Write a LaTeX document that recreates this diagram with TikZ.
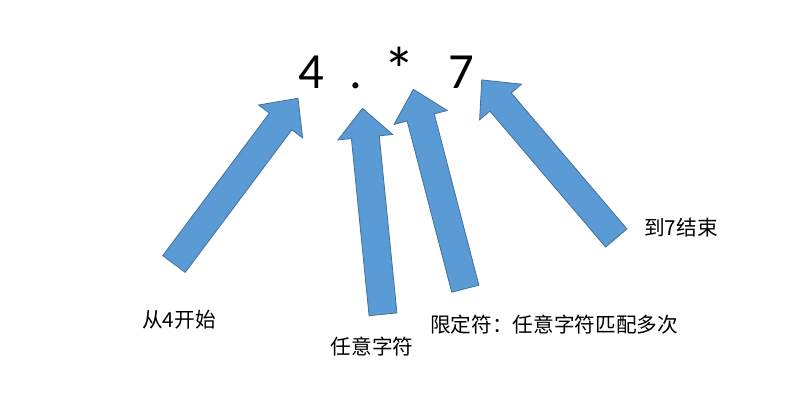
\documentclass[tikz,border=0pt]{standalone}
\usepackage{fontspec}
\setmainfont{Carlito}
\newfontfamily\cjk{Noto Sans CJK SC}
\definecolor{arrowblue}{HTML}{5B9BD5}
\definecolor{arrowline}{HTML}{41719C}

\tikzset{
  bigchar/.style={font=\fontsize{38}{40}\selectfont, anchor=base, inner sep=0pt},
  note/.style={font=\cjk\fontsize{15.5}{18}\selectfont, inner sep=0pt},
  arrowbody/.style={fill=arrowblue, draw=arrowline, line width=0.6pt}
}

% block arrow: tail point, angle, length
\newcommand{\blockarrow}[3]{%
  \begin{scope}[shift={#1}, rotate=#2]
    \draw[arrowbody] (0,-14) -- (#3-29,-14) -- (#3-29,-27.5) -- (#3,0)
      -- (#3-29,27.5) -- (#3-29,14) -- (0,14) -- cycle;
  \end{scope}}

\begin{document}
\begin{tikzpicture}[x=0.75pt, y=-0.75pt]
    \useasboundingbox[fill=white] (0,0) rectangle (804,404);

    % the pattern
    \node[bigchar] (n4) at (311,88) {4};
    \node[bigchar] (ndot) at (356,88) {.};
    \node[bigchar, font=\fontsize{48}{50}\selectfont] (nstar) at (399,92) {*};
    \node[bigchar] (n7) at (461,88) {7};

    % arrows pointing at the characters
    \blockarrow{(174,264)}{53.2}{207}
    \blockarrow{(383,314.3)}{95.7}{207}
    \blockarrow{(465.3,288.7)}{104.6}{206}
    \blockarrow{(616.3,238)}{130.4}{207.6}

    % notes
    \node[note] (lstart) at (179,320) {从4开始};
    \node[note] (lany) at (372,347) {任意字符};
    \node[note] (lquant) at (554,325) {限定符：任意字符匹配多次};
    \node[note] (lend) at (681,228) {到7结束};
\end{tikzpicture}
\end{document}
